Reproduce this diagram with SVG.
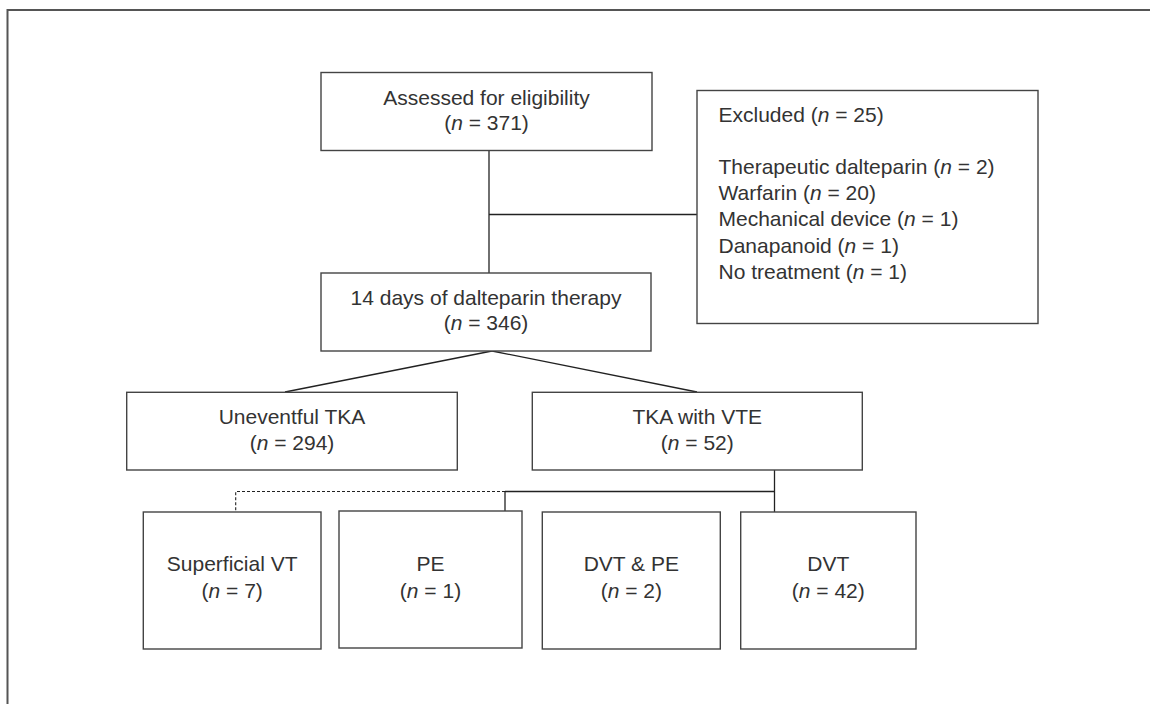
<svg xmlns="http://www.w3.org/2000/svg" width="1150" height="704" viewBox="0 0 1150 704">
<style>
.box{fill:#fff;stroke:#444;stroke-width:1.4}
.t{font-family:"Liberation Sans",Arial,sans-serif;font-size:21px;fill:#333}
.c{text-anchor:middle}
.i{font-style:italic}
.ln{stroke:#222;stroke-width:1.3;fill:none}
.dash{stroke:#222;stroke-width:1.1;fill:none;stroke-dasharray:3 2}
.frame{stroke:#555;stroke-width:2;fill:none}
</style>
<rect width="1150" height="704" fill="#fff"/>
<path class="frame" d="M7.5,704 V10 H1150"/>
<g id="connectors">
<line class="ln" x1="489" y1="150" x2="489" y2="273"/>
<line class="ln" x1="489" y1="214.5" x2="697" y2="214.5"/>
<line class="ln" x1="492" y1="351" x2="285" y2="392"/>
<line class="ln" x1="492" y1="351" x2="697" y2="392"/>
<line class="ln" x1="774.5" y1="470" x2="774.5" y2="512"/>
<line class="ln" x1="505" y1="491.5" x2="774.5" y2="491.5"/>
<line class="ln" x1="505" y1="491.5" x2="505" y2="511"/>
<path class="dash" d="M505,491.5 H235.7 V512"/>
</g>
<g id="assessed">
<rect class="box" x="321" y="72.5" width="331" height="78"/>
<text class="t c" x="486.5" y="104.5">Assessed for eligibility</text>
<text class="t c" x="486.5" y="129.5">(<tspan class="i">n</tspan> = 371)</text>
</g>
<g id="excluded">
<rect class="box" x="697" y="90.5" width="341" height="233"/>
<text class="t" x="718.5" y="121.5">Excluded (<tspan class="i">n</tspan> = 25)</text>
<text class="t" x="718.5" y="173.5">Therapeutic dalteparin (<tspan class="i">n</tspan> = 2)</text>
<text class="t" x="718.5" y="199.5">Warfarin (<tspan class="i">n</tspan> = 20)</text>
<text class="t" x="718.5" y="226">Mechanical device (<tspan class="i">n</tspan> = 1)</text>
<text class="t" x="718.5" y="252.5">Danapanoid (<tspan class="i">n</tspan> = 1)</text>
<text class="t" x="718.5" y="279">No treatment (<tspan class="i">n</tspan> = 1)</text>
</g>
<g id="therapy">
<rect class="box" x="321" y="273" width="330" height="78"/>
<text class="t c" x="486" y="305">14 days of dalteparin therapy</text>
<text class="t c" x="486" y="330">(<tspan class="i">n</tspan> = 346)</text>
</g>
<g id="uneventful">
<rect class="box" x="126.7" y="392.3" width="330.6" height="77.7"/>
<text class="t c" x="292" y="424">Uneventful TKA</text>
<text class="t c" x="292" y="449.5">(<tspan class="i">n</tspan> = 294)</text>
</g>
<g id="vte">
<rect class="box" x="532.3" y="392.3" width="330" height="77.7"/>
<text class="t c" x="697.3" y="424">TKA with VTE</text>
<text class="t c" x="697.3" y="449.5">(<tspan class="i">n</tspan> = 52)</text>
</g>
<g id="superficial">
<rect class="box" x="143.3" y="512" width="177.7" height="137"/>
<text class="t c" x="232.2" y="570.5">Superficial VT</text>
<text class="t c" x="232.2" y="597.5">(<tspan class="i">n</tspan> = 7)</text>
</g>
<g id="pe">
<rect class="box" x="339" y="511" width="183" height="137"/>
<text class="t c" x="430.5" y="570.5">PE</text>
<text class="t c" x="430.5" y="597.5">(<tspan class="i">n</tspan> = 1)</text>
</g>
<g id="dvtpe">
<rect class="box" x="542.3" y="512" width="178" height="137"/>
<text class="t c" x="631.3" y="570.5">DVT &amp; PE</text>
<text class="t c" x="631.3" y="597.5">(<tspan class="i">n</tspan> = 2)</text>
</g>
<g id="dvt">
<rect class="box" x="740.7" y="512" width="175.3" height="137"/>
<text class="t c" x="828.3" y="570.5">DVT</text>
<text class="t c" x="828.3" y="597.5">(<tspan class="i">n</tspan> = 42)</text>
</g>
</svg>
